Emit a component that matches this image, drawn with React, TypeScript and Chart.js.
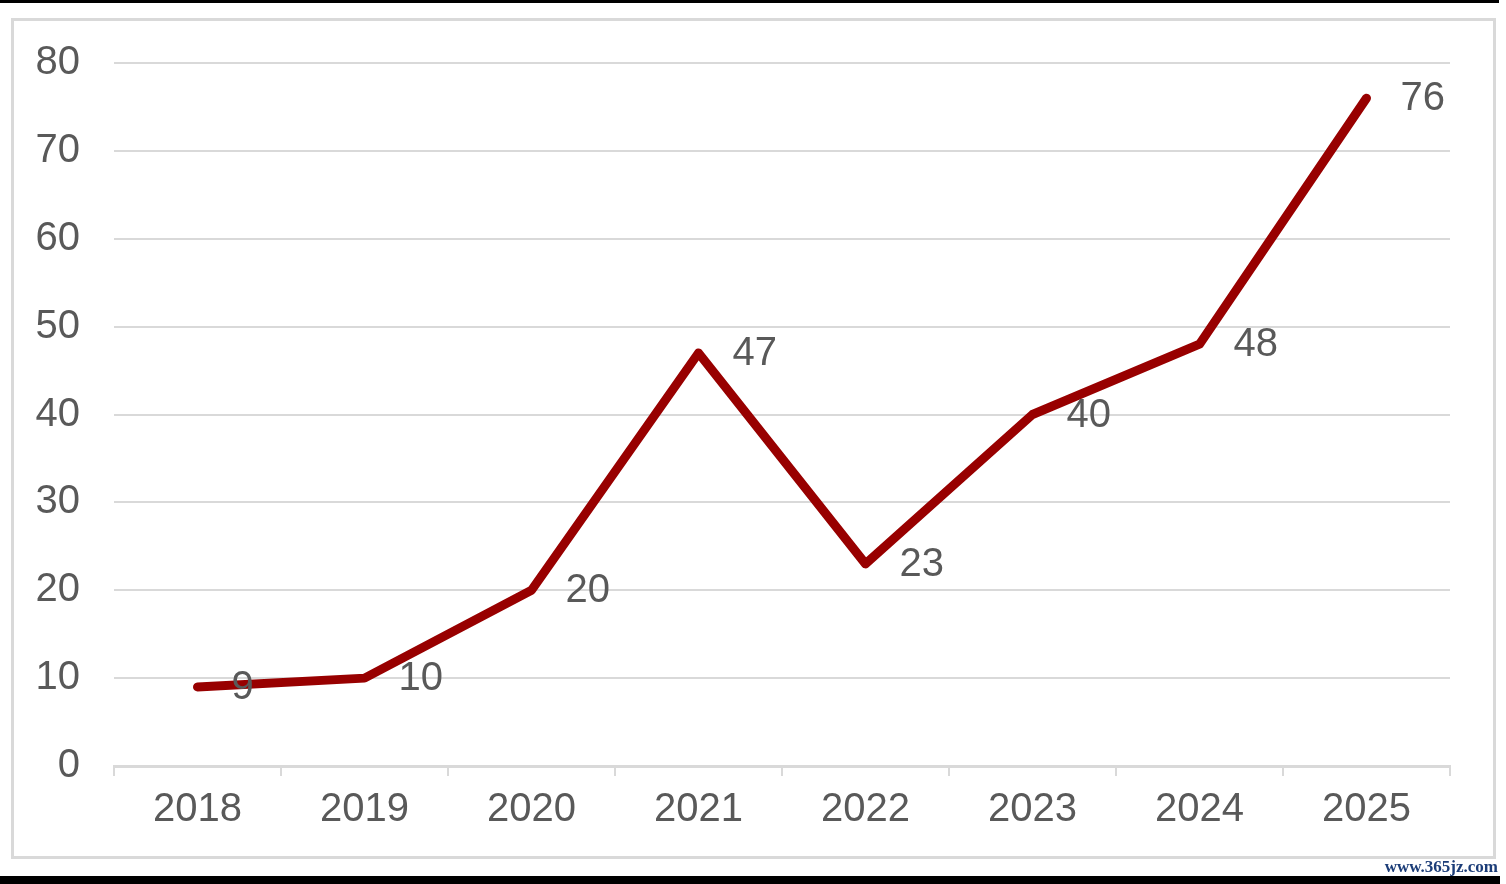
import React, { useEffect, useRef } from "react";
import { Chart, registerables } from "chart.js";

Chart.register(...registerables);

const categories = ["2018", "2019", "2020", "2021", "2022", "2023", "2024", "2025"];
const values = [9, 10, 20, 47, 23, 40, 48, 76];
const yMin = 0;
const yMax = 80;
const yStep = 10;

const FONT_FAMILY = '"Liberation Sans Narrow", "Liberation Sans", Arial, sans-serif';
const FONT_SIZE = 40;
const TEXT_COLOR = "#595959";
const GRID_COLOR = "#d9d9d9";
const LINE_COLOR = "#980000";

const valueLabels = {
  id: "valueLabels",
  afterDatasetsDraw(chart: any) {
    const ctx = chart.ctx;
    const meta = chart.getDatasetMeta(0);
    const data = chart.data.datasets[0].data as number[];
    ctx.save();
    ctx.font = `${FONT_SIZE}px ${FONT_FAMILY}`;
    ctx.fillStyle = TEXT_COLOR;
    ctx.textAlign = "left";
    ctx.textBaseline = "middle";
    meta.data.forEach((pt: any, i: number) => {
      ctx.fillText(String(data[i]), pt.x + 34, pt.y + 1);
    });
    ctx.restore();
  },
};

export default function App() {
  const canvasRef = useRef<HTMLCanvasElement | null>(null);

  useEffect(() => {
    document.body.style.margin = "0";
    const canvas = canvasRef.current;
    if (!canvas) return;
    const chart = new Chart(canvas, {
      type: "line",
      data: {
        labels: categories,
        datasets: [
          {
            data: values,
            borderColor: LINE_COLOR,
            backgroundColor: LINE_COLOR,
            borderWidth: 9,
            pointRadius: 0,
            pointHoverRadius: 0,
            tension: 0,
            borderCapStyle: "round",
            borderJoinStyle: "round",
            fill: false,
          },
        ],
      },
      options: {
        animation: false,
        responsive: false,
        devicePixelRatio: 1,
        events: [],
        layout: { padding: { top: 63, right: 56, left: 0, bottom: 0 } },
        plugins: {
          legend: { display: false },
          tooltip: { enabled: false },
          title: { display: false },
        },
        scales: {
          x: {
            type: "category",
            offset: true,
            afterFit: (s: any) => {
              s.height = 118;
            },
            grid: {
              offset: true,
              drawOnChartArea: false,
              drawTicks: true,
              tickLength: 10,
              color: GRID_COLOR,
              lineWidth: 2,
            },
            border: { display: true, color: GRID_COLOR, width: 3 },
            ticks: {
              color: TEXT_COLOR,
              font: { family: FONT_FAMILY, size: FONT_SIZE },
              padding: 10,
              maxRotation: 0,
              autoSkip: false,
            },
          },
          y: {
            min: yMin,
            max: yMax,
            afterFit: (s: any) => {
              s.width = 114;
            },
            grid: {
              drawTicks: false,
              color: GRID_COLOR,
              lineWidth: 2,
            },
            border: { display: false },
            ticks: {
              stepSize: yStep,
              color: TEXT_COLOR,
              font: { family: FONT_FAMILY, size: FONT_SIZE },
              padding: 34,
            },
          },
        },
      },
      plugins: [valueLabels],
    });
    return () => chart.destroy();
  }, []);

  return (
    <div
      style={{
        position: "fixed",
        left: 0,
        top: 0,
        width: 1506,
        height: 884,
        background: "#ffffff",
        overflow: "hidden",
      }}
    >
      <div style={{ position: "absolute", left: 0, top: 0, width: 1499, height: 3, background: "#000" }} />
      <div
        style={{
          position: "absolute",
          left: 11,
          top: 18,
          width: 1485,
          height: 841,
          border: `3px solid ${GRID_COLOR}`,
          boxSizing: "border-box",
        }}
      />
      <canvas
        ref={canvasRef}
        width={1506}
        height={884}
        style={{ position: "absolute", left: 0, top: 0, width: 1506, height: 884 }}
      />
      <div
        style={{
          position: "absolute",
          right: 8,
          top: 857,
          fontFamily: '"Liberation Serif", "DejaVu Serif", serif',
          fontSize: 17,
          fontWeight: "bold",
          color: "#1c3d78",
          lineHeight: "20px",
          whiteSpace: "nowrap",
        }}
      >
        www.365jz.com
      </div>
      <div style={{ position: "absolute", left: 0, top: 876, width: 1500, height: 8, background: "#000" }} />
    </div>
  );
}
